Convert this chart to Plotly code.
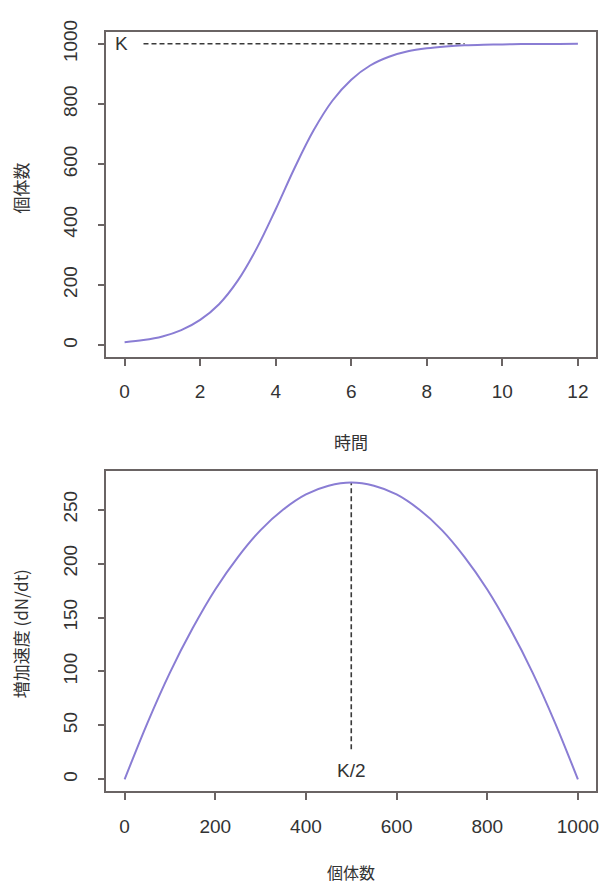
import plotly.graph_objects as go

# ---- data ----
time_t = [0, 0.5, 1, 1.5, 2, 2.5, 3, 3.5, 4, 4.5, 5, 5.5, 6, 6.5, 7, 7.5, 8,
          8.5, 9, 9.5, 10, 10.5, 11, 11.5, 12]
pop_n = [10, 17, 29, 50, 84, 136, 215, 322, 451, 588, 712, 811, 881, 928, 957,
         975, 985, 991, 995, 997, 998, 999, 999.5, 999.7, 999.8]

rate_n = [0, 50, 100, 150, 200, 250, 300, 350, 400, 450, 500, 550, 600, 650,
          700, 750, 800, 850, 900, 950, 1000]
rate_dndt = [0, 52, 99, 140, 176, 206, 231, 250, 264, 272, 275, 272, 264, 250,
             231, 206, 176, 140, 99, 52, 0]

K_value = 1000
K_line_x = [0.5, 9]
half_K_x = [500, 500]
half_K_y = [28, 275]

top_xticks = [0, 2, 4, 6, 8, 10, 12]
top_yticks = [0, 200, 400, 600, 800, 1000]
bot_xticks = [0, 200, 400, 600, 800, 1000]
bot_yticks = [0, 50, 100, 150, 200, 250]

W, H = 609, 886
CURVE = "#8a7dd4"
TXT = "#333333"
BOX = "#6a6464"
NUMFONT = "Liberation Sans, Arial, sans-serif"
CJK = "Noto Sans CJK JP, sans-serif"

fig = go.Figure()

# top panel
fig.add_trace(go.Scatter(x=K_line_x, y=[K_value, K_value], mode="lines",
                         line=dict(color="#3a3a3a", width=1.6, dash="5px,3px"),
                         xaxis="x", yaxis="y", hoverinfo="skip", showlegend=False))
fig.add_trace(go.Scatter(x=time_t, y=pop_n, mode="lines", line_shape="spline",
                         line=dict(color=CURVE, width=2),
                         xaxis="x", yaxis="y", showlegend=False))
# bottom panel
fig.add_trace(go.Scatter(x=half_K_x, y=half_K_y, mode="lines",
                         line=dict(color="#3a3a3a", width=1.6, dash="5px,3px"),
                         xaxis="x2", yaxis="y2", hoverinfo="skip", showlegend=False))
fig.add_trace(go.Scatter(x=rate_n, y=rate_dndt, mode="lines", line_shape="spline",
                         line=dict(color=CURVE, width=2),
                         xaxis="x2", yaxis="y2", showlegend=False))

def px_x(p):
    return p / W

def px_y(p):
    return 1 - p / H

axis_common = dict(showline=True, linecolor=BOX, linewidth=1.6, mirror=True,
                   ticks="outside", ticklen=7, tickwidth=1.5, tickcolor=BOX,
                   showgrid=False, zeroline=False,
                   tickfont=dict(family=NUMFONT, size=19, color=TXT))

def label(x, y, text, angle=0, size=17):
    return dict(x=px_x(x), y=px_y(y), xref="paper", yref="paper", text=text,
                xanchor="center", yanchor="middle", textangle=angle,
                showarrow=False, font=dict(family=CJK, size=size, color=TXT))

fig.update_layout(
    width=W, height=H, margin=dict(l=0, r=0, t=0, b=0),
    paper_bgcolor="white", plot_bgcolor="white",
    xaxis=dict(domain=[px_x(107), px_x(599)], range=[-0.48, 12.48],
               tickvals=top_xticks, anchor="y", ticklabelstandoff=9, **axis_common),
    yaxis=dict(domain=[px_y(350), px_y(20)], range=[-40, 1040],
               tickvals=top_yticks, anchor="x", tickangle=-90, ticklabelstandoff=13,
               **axis_common),
    xaxis2=dict(domain=[px_x(107), px_x(599)], range=[-40, 1040],
                tickvals=bot_xticks, anchor="y2", ticklabelstandoff=10, **axis_common),
    yaxis2=dict(domain=[px_y(790), px_y(465)], range=[-11, 286],
                tickvals=bot_yticks, anchor="x2", tickangle=-90, ticklabelstandoff=13,
                **axis_common),
    annotations=[
        dict(x=-0.08, y=K_value, xref="x", yref="y", text="K", showarrow=False,
             xanchor="center", yanchor="middle",
             font=dict(family=NUMFONT, size=19, color=TXT)),
        dict(x=500, y=8, xref="x2", yref="y2", text="K/2", showarrow=False,
             xanchor="center", yanchor="middle",
             font=dict(family=NUMFONT, size=19, color=TXT)),
        label(353, 435, "時間"),
        label(21, 178, "個体数", angle=-90),
        label(353, 872, "個体数", size=16),
        label(21, 630, "増加速度 (dN/dt)", angle=-90),
    ],
)

fig.write_html("out.html")
